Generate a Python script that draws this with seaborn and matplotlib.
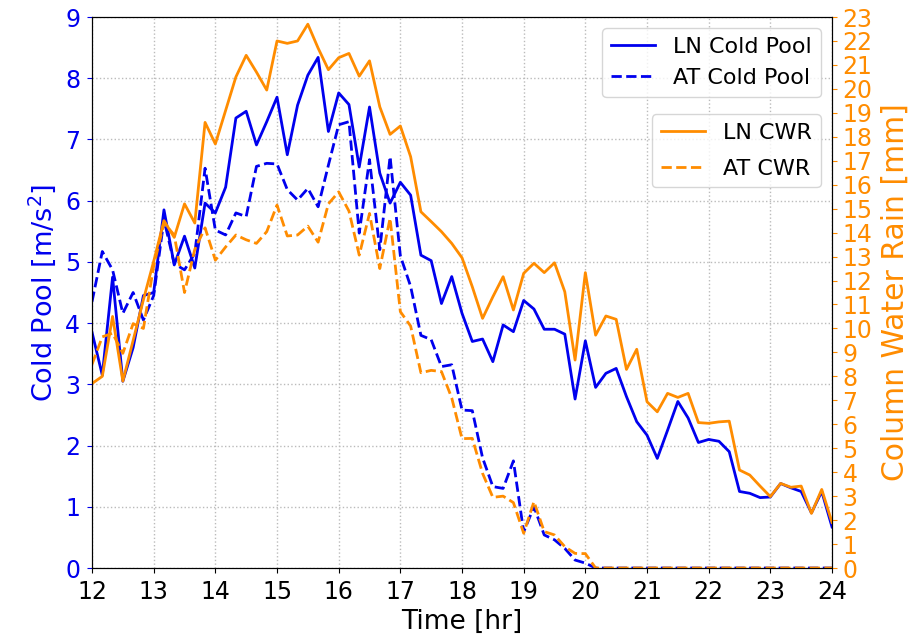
import numpy as np
import pandas as pd
import seaborn as sns
import matplotlib
matplotlib.use("Agg")
import matplotlib.pyplot as plt

# 10-minute output from 12 to 24 hr
time = np.linspace(12, 24, 73)

ln_cold_pool = [3.85, 3.15, 4.75, 3.05, 3.6, 4.45, 4.5, 5.85, 4.95, 5.42, 4.9, 5.96,
                5.8, 6.22, 7.35, 7.46, 6.91, 7.29, 7.69, 6.75, 7.56, 8.05, 8.34, 7.13,
                7.76, 7.57, 6.55, 7.53, 6.45, 5.96, 6.3, 6.09, 5.11, 5.02, 4.32, 4.76,
                4.16, 3.7, 3.74, 3.37, 3.97, 3.86, 4.37, 4.23, 3.9, 3.9, 3.82, 2.76,
                3.71, 2.95, 3.18, 3.26, 2.8, 2.39, 2.17, 1.79, 2.25, 2.72, 2.45, 2.05,
                2.1, 2.07, 1.9, 1.25, 1.22, 1.15, 1.16, 1.38, 1.31, 1.25, 0.9, 1.25,
                0.67]
at_cold_pool = [4.35, 5.17, 4.87, 4.16, 4.5, 4.05, 4.45, 5.69, 4.97, 4.87, 5.14, 6.53,
                5.52, 5.44, 5.8, 5.74, 6.56, 6.61, 6.6, 6.18, 6.01, 6.2, 5.9, 6.58,
                7.24, 7.29, 5.47, 6.67, 5.2, 6.72, 5.1, 4.6, 3.8, 3.73, 3.29, 3.32,
                2.58, 2.57, 1.8, 1.33, 1.3, 1.75, 0.59, 1.0, 0.54, 0.46, 0.32, 0.13,
                0.08] + [0.0] * 24
ln_cwr = [7.7, 8.0, 10.5, 7.8, 9.5, 11.2, 12.8, 14.5, 13.8, 15.2, 14.4, 18.6,
          17.7, 19.1, 20.5, 21.4, 20.7, 19.95, 22.0, 21.9, 22.0, 22.7, 21.7, 20.8,
          21.3, 21.48, 20.53, 21.17, 19.25, 18.1, 18.45, 17.17, 14.87, 14.46, 14.04, 13.55,
          12.95, 11.74, 10.42, 11.32, 12.16, 10.77, 12.3, 12.72, 12.33, 12.74, 11.53, 8.68,
          12.33, 9.72, 10.52, 10.38, 8.29, 9.13, 6.94, 6.52, 7.29, 7.12, 7.29, 6.07,
          6.04, 6.1, 6.13, 4.09, 3.88, 3.42, 2.98, 3.53, 3.37, 3.42, 2.28, 3.28,
          1.9]
at_cwr = [8.5, 9.65, 9.8, 8.96, 10.2, 10.0, 12.6, 14.4, 13.9, 11.5, 13.3, 14.2,
          12.85, 13.4, 13.9, 13.7, 13.55, 14.04, 15.15, 13.86, 13.9, 14.27, 13.6, 15.2,
          15.7, 14.9, 13.06, 14.8, 12.5, 14.6, 10.7, 10.1, 8.15, 8.25, 8.2, 7.1,
          5.4, 5.41, 3.95, 2.95, 3.0, 2.73, 1.45, 2.77, 1.52, 1.38, 0.89, 0.61,
          0.6] + [0.0] * 24

df = pd.DataFrame({"time": time, "ln_cp": ln_cold_pool, "at_cp": at_cold_pool,
                   "ln_cwr": ln_cwr, "at_cwr": at_cwr})

blue = "#0000ee"
orange = "darkorange"

fig, ax = plt.subplots(figsize=(9.22, 6.44), dpi=100)
fig.subplots_adjust(left=0.0998, right=0.9024, top=0.9736, bottom=0.118)
ax2 = ax.twinx()

sns.lineplot(data=df, x="time", y="ln_cp", ax=ax, color=blue, lw=2, label="LN Cold Pool", legend=False)
sns.lineplot(data=df, x="time", y="at_cp", ax=ax, color=blue, lw=2, ls="--", label="AT Cold Pool", legend=False)
sns.lineplot(data=df, x="time", y="ln_cwr", ax=ax2, color=orange, lw=2, label="LN CWR", legend=False)
sns.lineplot(data=df, x="time", y="at_cwr", ax=ax2, color=orange, lw=2, ls="--", label="AT CWR", legend=False)

ax.set_xlim(12, 24)
ax.set_ylim(0, 9)
ax2.set_ylim(0, 23)
ax.set_xticks(range(12, 25))
ax.set_yticks(range(0, 10))
ax2.set_yticks(range(0, 24))
ax.grid(True, ls=":", color="#bbbbbb", lw=1)

ax.set_xlabel("Time [hr]", fontsize=19, labelpad=4)
ax.set_ylabel("Cold Pool [m/s$^2$]", fontsize=19.5, color=blue, labelpad=5)
ax2.set_ylabel("Column Water Rain [mm]", fontsize=21.5, color=orange, labelpad=6)
ax.tick_params(axis="x", labelsize=17, pad=5)
ax.tick_params(axis="y", labelsize=17, colors=blue, pad=5)
ax2.tick_params(axis="y", labelsize=17, colors=orange, pad=4)

h1, l1 = ax.get_legend_handles_labels()
h2, l2 = ax2.get_legend_handles_labels()
leg1 = ax2.legend(h1, l1, loc="upper right", fontsize=16)
ax2.add_artist(leg1)
ax2.legend(h2, l2, loc="upper right", bbox_to_anchor=(1, 0.844), fontsize=16, labelspacing=0.7)

plt.savefig("out.png")
